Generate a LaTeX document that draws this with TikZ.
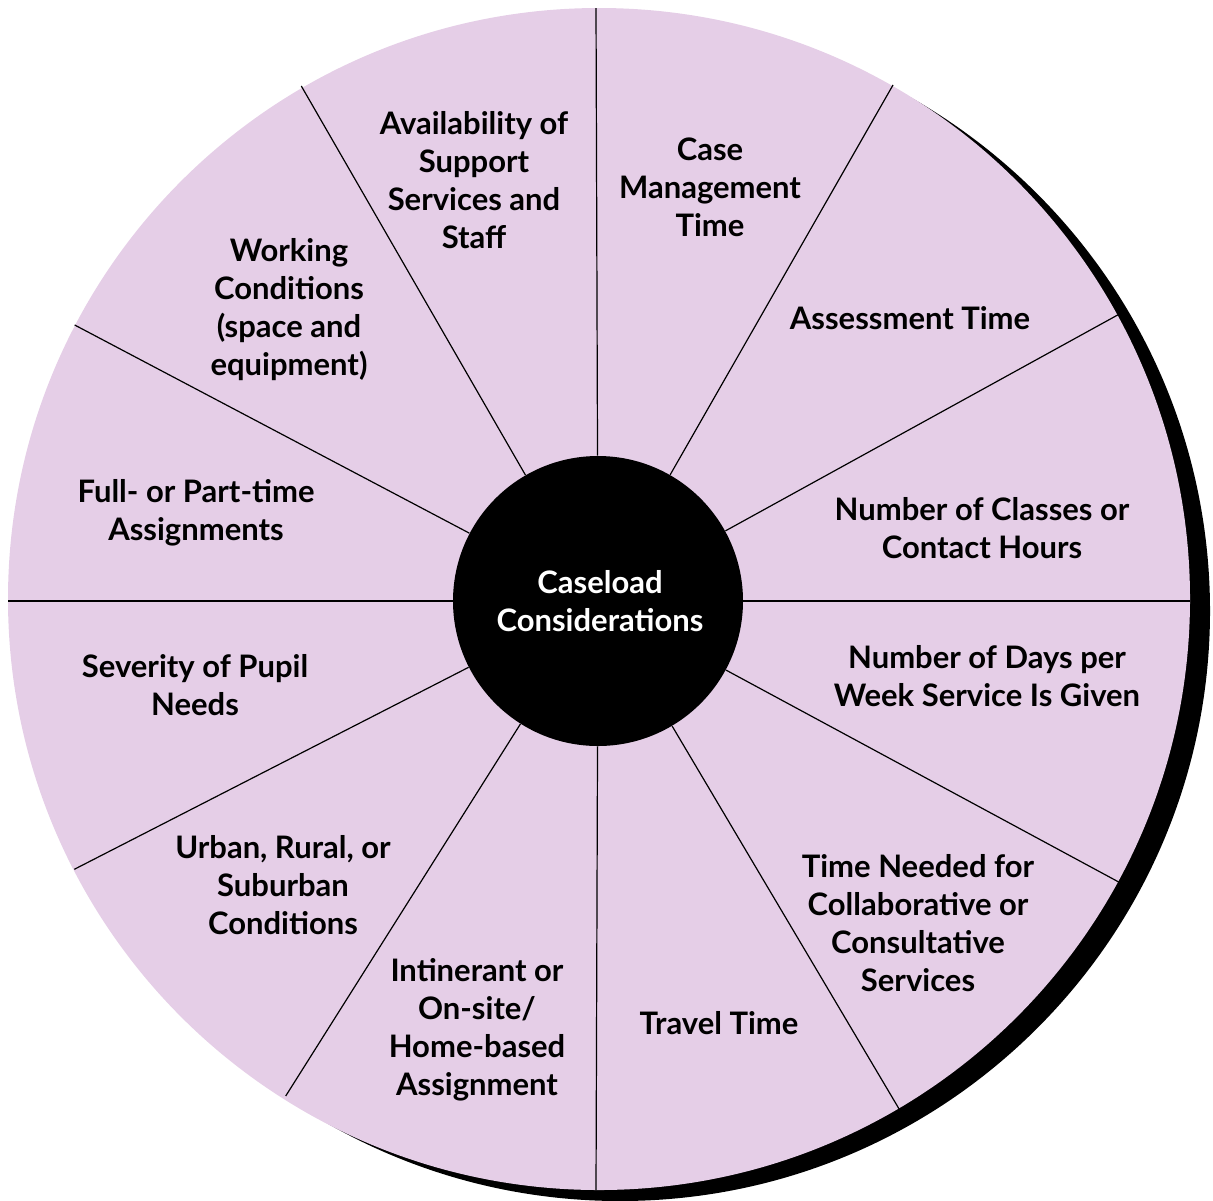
\documentclass[tikz,border=0pt]{standalone}
\usepackage{fontspec}
\setmainfont{Lato}[UprightFont=* Bold]
\definecolor{wheelpink}{RGB}{229,206,231}
\begin{document}
\begin{tikzpicture}[x=0.5pt,y=-0.5pt,
  lbl/.style={align=center,font=\fontsize{15.5}{19}\selectfont,text=black,inner sep=0pt},
  spoke/.style={draw=black,line width=0.6pt}]
\useasboundingbox (0,0) rectangle (1213,1200);
\fill[black] (620,611) circle[radius=590*0.5pt];
\fill[wheelpink] (599,599) circle[radius=591*0.5pt];
\node[circle,fill=black,minimum size=290*0.5pt,inner sep=0pt] (hub) at (598,601) {};
\coordinate (o0) at (1190,601);
\coordinate (o30) at (1120.7,313.3);
\coordinate (o60) at (893,85);
\coordinate (o90) at (596,8);
\coordinate (o120) at (301.3,86);
\coordinate (o150) at (74.7,325);
\coordinate (o180) at (8,601);
\coordinate (o210) at (74.3,869.3);
\coordinate (o240) at (285.7,1096);
\coordinate (o270) at (596,1190);
\coordinate (o300) at (899.3,1109.3);
\coordinate (o330) at (1120,882.7);
\foreach \a in {0,30,...,330}{
  \draw[spoke] (hub) -- (o\a);
}
\node[lbl,text=white] (hubtxt) at (600,601) {Caseload\\Considerations};
\node[lbl] (n1) at (474,180) {Availability of\\Support\\Services and\\Staff};
\node[lbl] (n2) at (710,187) {Case\\Management\\Time};
\node[lbl] (n3) at (910,318) {Assessment Time};
\node[lbl] (n4) at (982,528) {Number of Classes or\\Contact Hours};
\node[lbl] (n5) at (987,676) {Number of Days per\\Week Service Is Given};
\node[lbl] (n6) at (918,923) {Time Needed for\\Collaborative or\\Consultative\\Services};
\node[lbl] (n7) at (719,1023) {Travel Time};
\node[lbl] (n8) at (477,1030) {Intinerant or\\On-site/\\Home-based\\Assignment};
\node[lbl] (n9) at (283,885) {Urban, Rural, or\\Suburban\\Conditions};
\node[lbl] (n10) at (195,685) {Severity of Pupil\\Needs};
\node[lbl] (n11) at (196,513) {Full- or Part-time\\Assignments};
\node[lbl] (n12) at (289,310) {Working\\Conditions\\(space and\\equipment)};
\end{tikzpicture}
\end{document}
